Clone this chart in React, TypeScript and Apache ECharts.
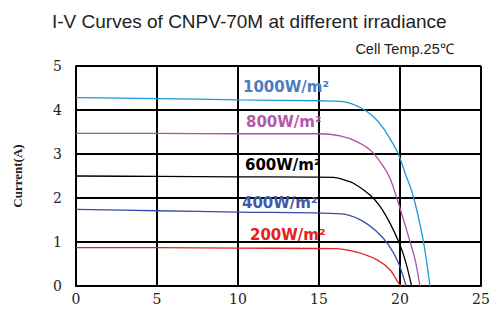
import React, { useEffect, useRef } from "react";
import * as echarts from "echarts";

const xTicks = [0, 5, 10, 15, 20, 25];
const yTicks = [0, 1, 2, 3, 4, 5];

const seriesNames = ["1000W/m²", "800W/m²", "600W/m²", "400W/m²", "200W/m²"];
const v1000: [number, number][] = [[0, 4.28], [5, 4.26], [10, 4.23], [15, 4.21], [16.5, 4.19], [17.63, 4.04], [18.35, 3.85], [18.97, 3.59], [19.49, 3.28], [19.9, 3.0], [20.31, 2.57], [20.82, 2.04], [21.44, 1.02], [21.85, 0]];
const v800: [number, number][] = [[0, 3.47], [5, 3.47], [10, 3.46], [15, 3.46], [16.3, 3.41], [17.33, 3.28], [18.25, 3.06], [18.97, 2.72], [19.38, 2.45], [19.77, 2.04], [20.4, 1.28], [20.93, 0.6], [21.23, 0]];
const v600: [number, number][] = [[0, 2.5], [5, 2.49], [10, 2.48], [15.9, 2.47], [16.5, 2.42], [17.1, 2.34], [18.15, 2.07], [18.77, 1.81], [19.38, 1.43], [19.9, 1.02], [20.31, 0.6], [20.72, 0]];
const v400: [number, number][] = [[0, 1.74], [5, 1.71], [10, 1.68], [16.4, 1.64], [17.53, 1.51], [18.56, 1.24], [19.28, 0.94], [19.9, 0.53], [20.38, 0]];
const v200: [number, number][] = [[0, 0.87], [5, 0.87], [10, 0.86], [16, 0.85], [17.33, 0.77], [18.56, 0.6], [19.38, 0.37], [19.9, 0.07], [20.05, 0]];

const lineColors = ["#1a9ad6", "#b04fa8", "#000000", "#3a4aa8", "#e52222"];
const labelColors = ["#4a7cc4", "#b458a8", "#000000", "#3f5aa8", "#e52222"];
const labelPos = [[243, 79], [246, 114], [245, 157], [242, 195], [250, 227]];

export default function App() {
  const ref = useRef<HTMLDivElement>(null);
  useEffect(() => {
    const chart = echarts.init(ref.current!, null, { renderer: "svg" });
    const datasets = [v1000, v800, v600, v400, v200];
    chart.setOption({
      animation: false,
      backgroundColor: "#ffffff",
      grid: { left: 76, right: 12, top: 66, bottom: 25 },
      xAxis: {
        type: "value",
        min: xTicks[0],
        max: xTicks[xTicks.length - 1],
        interval: 5,
        axisLine: { show: true, lineStyle: { color: "#000", width: 2 } },
        axisTick: { show: false },
        splitLine: { show: true, lineStyle: { color: "#000", width: 2 } },
        axisLabel: { color: "#222", fontFamily: "DejaVu Serif", fontSize: 14, margin: 6 },
      },
      yAxis: {
        type: "value",
        min: yTicks[0],
        max: yTicks[yTicks.length - 1],
        interval: 1,
        name: "Current(A)",
        nameLocation: "middle",
        nameGap: 52,
        nameRotate: 90,
        nameTextStyle: { fontFamily: "Liberation Serif", fontWeight: "bold", fontSize: 13, color: "#222" },
        axisLine: { show: true, lineStyle: { color: "#000", width: 2 } },
        axisTick: { show: false },
        splitLine: { show: true, lineStyle: { color: "#000", width: 2 } },
        axisLabel: { color: "#222", fontFamily: "DejaVu Serif", fontSize: 14, margin: 14 },
      },
      title: [
        { text: "I-V Curves of CNPV-70M at different irradiance", left: 47, top: 7, textStyle: { fontFamily: "Liberation Sans", fontSize: 19, fontWeight: "normal", color: "#222" } },
        { text: "Cell Temp.25℃", right: 34, top: 36, textStyle: { fontFamily: "Liberation Sans", fontSize: 14.5, fontWeight: "normal", color: "#222" } },
      ],
      graphic: seriesNames.map((n, i) => ({
        type: "text",
        left: labelPos[i][0],
        top: labelPos[i][1],
        z: 100,
        style: { text: n, fill: labelColors[i], font: "bold 15px 'DejaVu Sans'" },
      })),
      series: datasets.map((d, i) => ({
        type: "line",
        name: seriesNames[i],
        data: d,
        smooth: 0.3,
        showSymbol: false,
        lineStyle: { color: lineColors[i], width: 1.3 },
      })),
    });
    return () => chart.dispose();
  }, []);
  return <div ref={ref} style={{ width: 493, height: 311, position: "absolute", left: 0, top: 0 }} />;
}
